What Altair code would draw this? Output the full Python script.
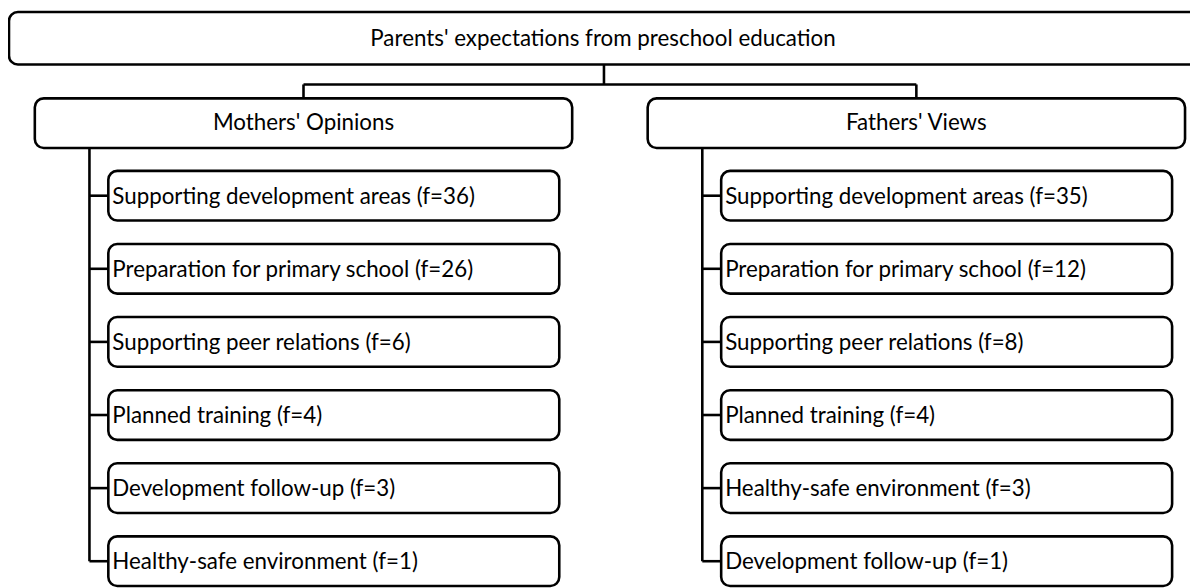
import altair as alt
import pandas as pd

# ---------------- data ----------------
root_label = "Parents' expectations from preschool education"
groups = ["Mothers' Opinions", "Fathers' Views"]
mother_items = ["Supporting development areas", "Preparation for primary school",
                "Supporting peer relations", "Planned training",
                "Development follow-up", "Healthy-safe environment"]
mother_f = [36, 26, 6, 4, 3, 1]
father_items = ["Supporting development areas", "Preparation for primary school",
                "Supporting peer relations", "Planned training",
                "Healthy-safe environment", "Development follow-up"]
father_f = [35, 12, 8, 4, 3, 1]

# ---------------- layout (page pixel space) ----------------
W, H = 1190, 580
OX, OY = 8, 8                      # page margin
ROOT = dict(x0=9, x1=1230, y0=10, y1=63)
CONN_Y = 83
L1_Y0, L1_Y1 = 97, 147
G_LEFT0, G_STEP, G_W = 35, 617, 541
TRUNK_DX = 55
CHILD_DX = 19
CHILD_W = 454
CHILD_Y0, CHILD_STEP, CHILD_H = 195, 73.6, 50
TEXT_PAD = 4
FONT, FSIZE = "Lato", 22.5

boxes, rules, texts = [], [], []
# root
boxes.append(dict(x=ROOT["x0"], x2=ROOT["x1"], y=ROOT["y0"], y2=ROOT["y1"]))
root_cx = 607
texts.append(dict(x=root_cx, y=(ROOT["y0"] + ROOT["y1"]) / 2 + 1, t=root_label, a="center"))
rules.append(dict(x=root_cx + 1, x2=root_cx + 1, y=ROOT["y1"], y2=CONN_Y))

group_children = [list(zip(mother_items, mother_f)), list(zip(father_items, father_f))]
centers = []
for gi, gname in enumerate(groups):
    gx0 = G_LEFT0 + gi * G_STEP
    gx1 = gx0 + G_W
    gcx = (gx0 + gx1) / 2
    centers.append(gcx)
    boxes.append(dict(x=gx0, x2=gx1, y=L1_Y0, y2=L1_Y1))
    texts.append(dict(x=gcx, y=(L1_Y0 + L1_Y1) / 2, t=gname, a="center"))
    rules.append(dict(x=gcx, x2=gcx, y=CONN_Y, y2=L1_Y0))
    tx = gx0 + TRUNK_DX
    kids = group_children[gi]
    last_cy = CHILD_Y0 + (len(kids) - 1) * CHILD_STEP
    rules.append(dict(x=tx, x2=tx, y=L1_Y1, y2=last_cy))
    for ci, (name, f) in enumerate(kids):
        cy = CHILD_Y0 + ci * CHILD_STEP
        bx0 = tx + CHILD_DX
        boxes.append(dict(x=bx0, x2=bx0 + CHILD_W, y=cy - CHILD_H / 2, y2=cy + CHILD_H / 2))
        rules.append(dict(x=tx, x2=bx0, y=cy, y2=cy))
        texts.append(dict(x=bx0 + TEXT_PAD, y=cy + 1, t=f"{name} (f={f})", a="left"))
rules.append(dict(x=centers[0], x2=centers[1], y=CONN_Y, y2=CONN_Y))

xs = alt.Scale(domain=[OX, OX + W], nice=False, zero=False)
ys = alt.Scale(domain=[OY, OY + H], nice=False, zero=False, reverse=True)

rule_layer = alt.Chart(pd.DataFrame(rules)).mark_rule(color="black", strokeWidth=2.6).encode(
    x=alt.X("x:Q", scale=xs, axis=None), x2="x2:Q",
    y=alt.Y("y:Q", scale=ys, axis=None), y2="y2:Q")

box_layer = alt.Chart(pd.DataFrame(boxes)).mark_rect(
    fill="white", stroke="black", strokeWidth=2.6, cornerRadius=9).encode(
    x=alt.X("x:Q", scale=xs, axis=None), x2="x2:Q",
    y=alt.Y("y:Q", scale=ys, axis=None), y2="y2:Q")

tdf = pd.DataFrame(texts)
text_c = alt.Chart(tdf[tdf.a == "center"]).mark_text(
    align="center", baseline="middle", font=FONT, fontSize=FSIZE, color="black").encode(
    x=alt.X("x:Q", scale=xs, axis=None), y=alt.Y("y:Q", scale=ys, axis=None), text="t:N")
text_l = alt.Chart(tdf[tdf.a == "left"]).mark_text(
    align="left", baseline="middle", font=FONT, fontSize=FSIZE, color="black").encode(
    x=alt.X("x:Q", scale=xs, axis=None), y=alt.Y("y:Q", scale=ys, axis=None), text="t:N")

chart = alt.layer(rule_layer, box_layer, text_c, text_l).properties(
    width=W, height=H, padding=0,
    autosize=alt.AutoSizeParams(type="none"),
    background="white",
).configure_view(stroke=None)

chart.save("out.html", embed_options={"renderer": "svg", "actions": False})
